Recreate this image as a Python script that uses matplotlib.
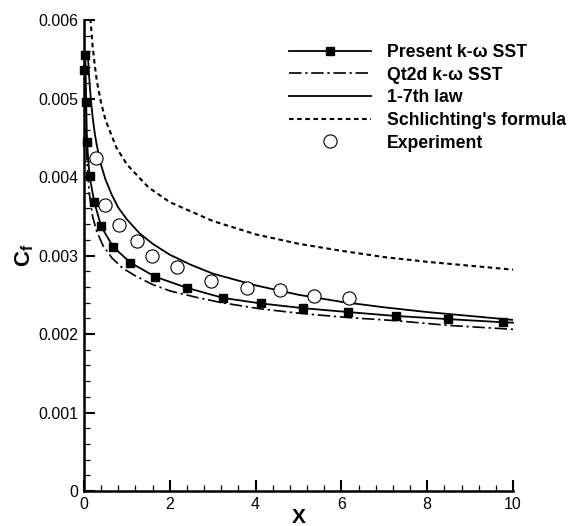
import matplotlib
matplotlib.use('Agg')
import matplotlib.pyplot as plt
from matplotlib.ticker import MultipleLocator, FuncFormatter
import numpy as np

plt.rcParams['font.family'] = ['Liberation Sans', 'DejaVu Sans']
plt.rcParams['mathtext.fontset'] = 'custom'
plt.rcParams['mathtext.rm'] = 'Liberation Sans'
plt.rcParams['mathtext.bf'] = 'Liberation Sans:bold'

# skin friction coefficient along the plate, Cf given in units of 1e-3

# present k-omega SST (line goes on to x = 10 past the last marker)
x_sst = [0.0, 0.03, 0.05, 0.07, 0.13, 0.24, 0.40, 0.68, 1.08, 1.66, 2.39,
         3.24, 4.12, 5.10, 6.15, 7.27, 8.49, 9.76, 10.0]
cf_sst = [5.36, 5.56, 4.96, 4.44, 4.01, 3.68, 3.37, 3.11, 2.91, 2.73, 2.59,
          2.46, 2.39, 2.33, 2.28, 2.23, 2.19, 2.15, 2.145]

# Qt2d k-omega SST
x_qt2d = [0.02, 0.04, 0.07, 0.12, 0.2, 0.3, 0.45, 0.65, 0.9, 1.2, 1.6, 2.0,
          2.6, 3.2, 4.12, 5.10, 6.15, 7.27, 8.49, 10.0]
cf_qt2d = [5.5, 4.8, 4.2, 3.8, 3.5, 3.3, 3.12, 2.97, 2.84, 2.74, 2.63, 2.55,
           2.47, 2.40, 2.32, 2.26, 2.21, 2.17, 2.11, 2.06]

# 1/7th power law
x_law = [0.09, 0.12, 0.16, 0.2, 0.25, 0.3, 0.4, 0.5, 0.65, 0.8, 1.0, 1.3,
         1.6, 2.0, 2.5, 3.0, 4.0, 5.0, 6.0, 7.0, 8.0, 9.0, 10.0]
cf_law = [5.55, 5.28, 4.98, 4.77, 4.56, 4.40, 4.15, 3.97, 3.77, 3.61, 3.46,
          3.28, 3.15, 3.01, 2.88, 2.77, 2.62, 2.50, 2.41, 2.34, 2.28, 2.23, 2.18]

# Schlichting's formula
x_sch = [0.15, 0.2, 0.25, 0.3, 0.4, 0.5, 0.75, 1.0, 1.5, 2.0, 3.0, 4.0, 5.0,
         6.0, 7.0, 8.0, 9.0, 10.0]
cf_sch = [6.02, 5.67, 5.43, 5.22, 4.94, 4.73, 4.38, 4.16, 3.87, 3.68, 3.44,
          3.27, 3.15, 3.06, 2.98, 2.92, 2.87, 2.82]

# experiment
x_exp = [0.27, 0.50, 0.82, 1.23, 1.59, 2.17, 2.97, 3.80, 4.57, 5.37, 6.17]
cf_exp = [4.24, 3.65, 3.39, 3.18, 3.00, 2.86, 2.675, 2.59, 2.56, 2.48, 2.455]

x_ticks = [0, 2, 4, 6, 8, 10]
y_ticks = [0, 0.001, 0.002, 0.003, 0.004, 0.005, 0.006]


def scaled(v):
    return np.asarray(v) * 1e-3


fig = plt.figure(figsize=(5.73, 5.26), dpi=100)
ax = fig.add_axes([0.1466, 0.0665, 0.7487, 0.8954])

ax.plot(x_sst, scaled(cf_sst), color='k', lw=1.3, marker='s', ms=5.5,
        markevery=list(range(len(x_sst) - 1)), clip_on=False, zorder=4,
        label=u'Present k-\u03c9 SST')
ax.plot(x_qt2d, scaled(cf_qt2d), color='k', lw=1.2,
        dashes=(7.5, 2.2, 1.4, 2.2), label=u'Qt2d k-\u03c9 SST')
ax.plot(x_law, scaled(cf_law), color='k', lw=1.3, label='1-7th law')
ax.plot(x_sch, scaled(cf_sch), color='k', lw=1.5, dashes=(2.2, 1.7),
        label="Schlichting's formula")
ax.plot(x_exp, scaled(cf_exp), ls='none', marker='o', ms=9.5, mfc='white',
        mec='k', mew=0.8, zorder=5, label='Experiment')

ax.set_xlim(0, 10)
ax.set_ylim(0, 0.006)
ax.set_xticks(x_ticks)
ax.set_yticks(y_ticks)
ax.xaxis.set_minor_locator(MultipleLocator(0.4))
ax.yaxis.set_minor_locator(MultipleLocator(0.0002))
ax.yaxis.set_major_formatter(FuncFormatter(lambda v, p: '0' if v == 0 else '%.3f' % v))

for side in ['top', 'right']:
    ax.spines[side].set_visible(False)
for side in ['left', 'bottom']:
    ax.spines[side].set_linewidth(1.8)

ax.tick_params(which='major', direction='in', length=8, width=1.5,
               labelsize=11.5, pad=4)
ax.tick_params(which='minor', direction='in', length=4.5, width=0.9)

ax.set_xlabel('X', fontsize=15, fontweight='bold')
ax.xaxis.set_label_coords(0.5, -0.035)
ax.set_ylabel(r'$\mathbf{C}_\mathbf{f}$', fontsize=16, labelpad=2)

ax.legend(loc='upper left', bbox_to_anchor=(289 / 573, 1 - 44 / 526),
          bbox_transform=fig.transFigure, frameon=False,
          prop={'weight': 'bold', 'size': 12.7}, handlelength=4.65,
          handletextpad=0.9, labelspacing=0.32, borderpad=0, borderaxespad=0)

fig.savefig('out.png', dpi=100)
